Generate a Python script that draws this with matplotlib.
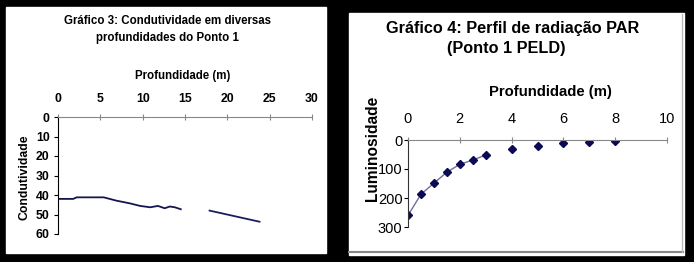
import matplotlib.pyplot as plt
from matplotlib.patches import Rectangle
from matplotlib.lines import Line2D

plt.rcParams['font.family'] = ['Liberation Sans', 'DejaVu Sans']

# Gráfico 3: condutividade x profundidade
prof_cond_a = [0, 1.8, 2.2, 5.4, 6.9, 8.5, 9.7, 10.9, 11.8, 12.6, 13.2, 13.8, 14.5]
cond_a = [42, 42, 41.2, 41.2, 42.9, 44.3, 45.6, 46.3, 45.6, 46.8, 45.9, 46.3, 47.3]
prof_cond_b = [17.9, 23.8]
cond_b = [48.0, 53.7]
x_ticks_3 = [0, 5, 10, 15, 20, 25, 30]
y_ticks_3 = [0, 10, 20, 30, 40, 50, 60]

# Gráfico 4: radiação PAR x profundidade
prof_par = [0, 0.5, 1, 1.5, 2, 2.5, 3, 4, 5, 6, 7, 8]
lum_par = [260, 187, 149, 111, 84, 69, 52, 31, 21, 11, 8, 4]
n_linha = 7  # pontos ligados pela linha
x_ticks_4 = [0, 2, 4, 6, 8, 10]
y_ticks_4 = [0, 100, 200, 300]

W, H = 694, 262
fig = plt.figure(figsize=(W / 100, H / 100), dpi=100)
fig.patch.set_facecolor('black')

def px(x0, y0, w, h):
    return [x0 / W, 1 - (y0 + h) / H, w / W, h / H]

# fundos brancos
fig.patches.append(Rectangle((6 / W, 1 - 253 / H), 320 / W, 246 / H,
                             transform=fig.transFigure, color='white', zorder=-5))
fig.patches.append(Rectangle((349 / W, 1 - 255 / H), 335 / W, 242 / H,
                             transform=fig.transFigure, color='white', zorder=-5))
fig.lines.append(Line2D([349 / W, 683 / W], [1 - 252 / H, 1 - 252 / H],
                        transform=fig.transFigure, color='#888888', lw=1.5))
fig.lines.append(Line2D([682 / W, 682 / W], [1 - 14 / H, 1 - 252 / H],
                        transform=fig.transFigure, color='#bbbbbb', lw=1))

# ---- Gráfico 3 ----
ax1 = fig.add_axes(px(58, 117, 254, 117))
ax1.set_zorder(2)
ax1.patch.set_alpha(0)
ax1.plot(prof_cond_a, cond_a, color='#15154f', lw=1.3)
ax1.plot(prof_cond_b, cond_b, color='#1c1c60', lw=1.3)
ax1.set_xlim(0, 30)
ax1.set_ylim(60, 0)
ax1.set_xticks(x_ticks_3)
ax1.set_yticks(y_ticks_3)
ax1.xaxis.tick_top()
for s in ['right', 'bottom']:
    ax1.spines[s].set_visible(False)
ax1.spines['top'].set_color('#888888')
ax1.spines['left'].set_color('black')
ax1.tick_params(axis='x', direction='inout', length=4, color='#888888',
                pad=7, labelsize=8.8)
ax1.tick_params(axis='y', direction='out', length=3, pad=3, labelsize=8.8)
for t in ax1.get_xticklabels() + ax1.get_yticklabels():
    t.set_fontweight('bold')

fig.text(167 / W, 1 - 21 / H, 'Gráfico 3: Condutividade em diversas',
         ha='center', va='center', fontsize=8.3, fontweight='bold')
fig.text(167 / W, 1 - 38 / H, 'profundidades do Ponto 1',
         ha='center', va='center', fontsize=8.3, fontweight='bold')
fig.text(183 / W, 1 - 76 / H, 'Profundidade (m)',
         ha='center', va='center', fontsize=8.3, fontweight='bold')
fig.text(25 / W, 1 - 177 / H, 'Condutividade', rotation=90,
         ha='center', va='center', fontsize=8.8, fontweight='bold')

# ---- Gráfico 4 ----
ax2 = fig.add_axes(px(408, 140, 259, 87))
ax2.set_zorder(2)
ax2.patch.set_alpha(0)
ax2.plot(prof_par[:n_linha], lum_par[:n_linha], color='#707098', lw=1)
ax2.plot(prof_par, lum_par, linestyle='none', marker='D', markersize=4.5,
         color='#0a0a55')
ax2.set_xlim(0, 10)
ax2.set_ylim(300, 0)
ax2.set_xticks(x_ticks_4)
ax2.set_yticks(y_ticks_4)
ax2.xaxis.tick_top()
for s in ['right', 'bottom']:
    ax2.spines[s].set_visible(False)
ax2.spines['top'].set_color('#888888')
ax2.spines['left'].set_color('#333333')
ax2.tick_params(axis='x', direction='inout', length=4, color='#888888',
                pad=8, labelsize=10.5)
ax2.tick_params(axis='y', direction='out', length=3, pad=1, labelsize=10.5)

fig.text(513 / W, 1 - 29 / H, 'Gráfico 4: Perfil de radiação PAR',
         ha='center', va='center', fontsize=11.7, fontweight='bold')
fig.text(506 / W, 1 - 48 / H, '(Ponto 1 PELD)',
         ha='center', va='center', fontsize=11.7, fontweight='bold')
fig.text(550 / W, 1 - 92 / H, 'Profundidade (m)',
         ha='center', va='center', fontsize=10.7, fontweight='bold')
fig.text(372 / W, 1 - 148 / H, 'Luminosidade', rotation=90,
         ha='center', va='center', fontsize=11.2, fontweight='bold')

plt.savefig('out.png', dpi=100, facecolor=fig.get_facecolor())
